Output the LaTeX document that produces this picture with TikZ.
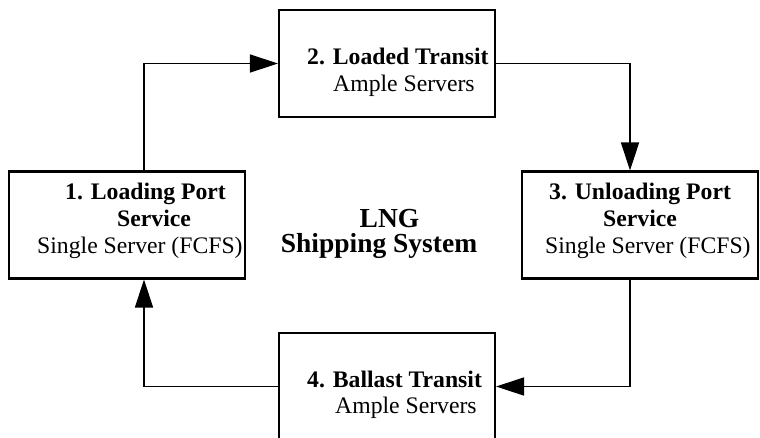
\documentclass[tikz,border=0pt]{standalone}
\usepackage{fontspec}
\setmainfont{Liberation Serif}
\usetikzlibrary{arrows.meta}
\tikzset{
  stage/.style={draw, line width=2.1pt, rectangle, inner sep=0pt, minimum height=107pt},
  wide/.style={stage, minimum width=236pt},
  narrow/.style={stage, minimum width=216pt},
  flow/.style={line width=1.7pt, -{Triangle[length=28pt,width=18pt]}},
  txt/.style={inner sep=0pt, anchor=base west, font=\fontsize{23.7}{26}\selectfont},
  btxt/.style={txt, font=\fontsize{23.7}{26}\selectfont\bfseries},
  title/.style={inner sep=0pt, anchor=base, font=\fontsize{27.5}{30}\selectfont\bfseries},
}
\begin{document}
\begin{tikzpicture}[x=1pt, y=-1pt]
\useasboundingbox (0,0) rectangle (760,437);
\clip (0,0) rectangle (760,437);

% the four stages of the cycle
\node[wide]   (b1) at (127,225)   {};
\node[narrow] (b2) at (387,63.5)  {};
\node[wide]   (b3) at (640,225)   {};
\node[narrow] (b4) at (387,386.5) {};

% stage labels
\node[btxt] (t1a) at (65,199)  {1. Loading Port};
\node[btxt] (t1b) at (117,226) {Service};
\node[txt]  (t1c) at (37,253)  {Single Server (FCFS)};

\node[btxt] (t2a) at (307,64) {2. Loaded Transit};
\node[txt]  (t2b) at (333,91) {Ample Servers};

\node[btxt] (t3a) at (549,199) {3. Unloading Port};
\node[btxt] (t3b) at (603,226) {Service};
\node[txt]  (t3c) at (545,253) {Single Server (FCFS)};

\node[btxt] (t4a) at (307,387) {4. Ballast Transit};
\node[txt]  (t4b) at (335,413) {Ample Servers};

% system title
\node[title] (ta) at (389.5,227) {LNG};
\node[title] (tb) at (379,252)   {Shipping System};

% cycle connectors
\draw[flow] ([xshift=17pt]b1.north) |- (b2.west);
\draw[flow] (b2.east) -| ([xshift=-10pt]b3.north);
\draw[flow] ([xshift=-10pt]b3.south) |- (b4.east);
\draw[flow] (b4.west) -| ([xshift=17pt]b1.south);
\end{tikzpicture}
\end{document}
